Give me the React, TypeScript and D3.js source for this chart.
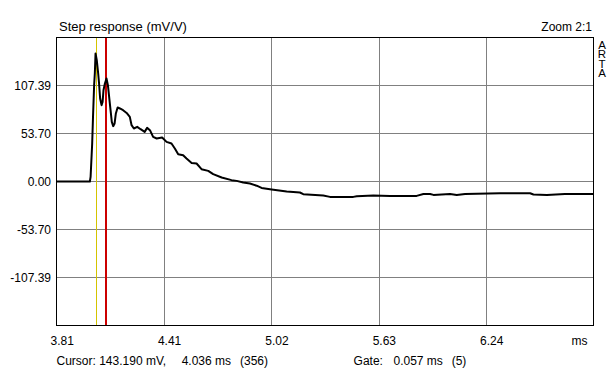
import React from "react";
import * as d3 from "d3";

// ---- data ----
const timeMs = [
  3.806, 3.995, 3.999, 4.008, 4.013, 4.019, 4.023, 4.027, 4.034, 4.042,
  4.047, 4.053, 4.061, 4.067, 4.072, 4.080, 4.089, 4.097, 4.104, 4.112,
  4.119, 4.127, 4.135, 4.142, 4.152, 4.165, 4.183, 4.203, 4.221, 4.231,
  4.244, 4.263, 4.282, 4.305, 4.319, 4.335, 4.353, 4.373, 4.404, 4.429,
  4.457, 4.476, 4.495, 4.523, 4.542, 4.571, 4.599, 4.627, 4.665, 4.693,
  4.741, 4.797, 4.826, 4.863, 4.901, 4.939, 4.967, 5.024, 5.109, 5.184,
  5.203, 5.316, 5.354, 5.486, 5.506, 5.600, 5.694, 5.845, 5.883, 5.921,
  5.940, 6.034, 6.072, 6.119, 6.317, 6.487, 6.506, 6.582, 6.684, 6.843,
];
const stepMv = [
  0, 0, 5.1, 42.5, 74.2, 107.7, 121.1, 143.2, 135.7, 120.8,
  109.6, 92.8, 85.4, 89.0, 102.1, 109.6, 115.2, 107.7, 94.6, 79.8,
  66.7, 61.9, 64.9, 76.1, 82.8, 81.7, 79.8, 76.7, 72.3, 63.0,
  59.3, 61.1, 58.5, 55.5, 60.0, 57.4, 49.9, 48.1, 49.2, 44.3,
  42.5, 36.9, 30.5, 29.4, 25.7, 20.8, 20.1, 13.8, 11.9, 8.2,
  4.5, 1.5, 0.7, -1.1, -2.2, -4.7, -7.2, -8.9, -11.2, -12.3,
  -14.2, -15.7, -17.2, -17.2, -16.4, -15.7, -16.1, -16.1, -13.9, -13.9,
  -15.0, -13.9, -15.0, -13.9, -13.1, -13.1, -14.5, -15.0, -13.9, -13.9,
];

const xDomain = [3.806, 6.846];
const yDomain = [-161.085, 161.085];
const xTickValues = [3.806, 4.414, 5.022, 5.63, 6.238];
const xTickLabels = ["3.81", "4.41", "5.02", "5.63", "6.24"];
const yTickValues = [107.39, 53.7, 0, -53.7, -107.39];
const yTickLabels = ["107.39", "53.70", "0.00", "-53.70", "-107.39"];
const xGridValues = [4.414, 5.022, 5.63, 6.238];

const cursorMs = 4.036;
const gateMs = 4.086;

const titleText = "Step response (mV/V)";
const zoomText = "Zoom 2:1";
const brandText = "ARTA";

// ---- layout ----
const W = 614;
const H = 370;
const L = 56.5;
const R = 593.5;
const T = 37.5;
const B = 325.5;
const FONT = "'Liberation Sans', Arial, sans-serif";

export default function App() {
  const x = d3.scaleLinear().domain(xDomain).range([L, R]);
  const y = d3.scaleLinear().domain(yDomain).range([B, T]);
  const pts: [number, number][] = timeMs.map((t, i) => [t, stepMv[i]]);
  const line = d3
    .line<[number, number]>()
    .x((d) => x(d[0]))
    .y((d) => y(d[1]));

  return (
    <svg
      width={W}
      height={H}
      style={{ position: "absolute", left: 0, top: 0, background: "#fff" }}
      fontFamily={FONT}
    >
      <rect x={0} y={0} width={W} height={H} fill="#fff" />
      <defs>
        <clipPath id="plot">
          <rect x={L} y={T} width={R - L} height={B - T} />
        </clipPath>
      </defs>
      {/* grid */}
      {xGridValues.map((v, i) => (
        <line
          key={"gx" + i}
          x1={Math.round(x(v)) + 0.5}
          x2={Math.round(x(v)) + 0.5}
          y1={T}
          y2={B}
          stroke="#808080"
          strokeWidth={1}
        />
      ))}
      {yTickValues.map((v, i) => (
        <line
          key={"gy" + i}
          x1={L}
          x2={R}
          y1={Math.round(y(v) - 0.5) + 0.5}
          y2={Math.round(y(v) - 0.5) + 0.5}
          stroke="#808080"
          strokeWidth={1}
        />
      ))}
      {/* markers */}
      <line
        x1={Math.round(x(cursorMs)) - 0.5}
        x2={Math.round(x(cursorMs)) - 0.5}
        y1={T}
        y2={B}
        stroke="#d4c400"
        strokeWidth={1}
      />
      <line
        x1={Math.round(x(gateMs))}
        x2={Math.round(x(gateMs))}
        y1={T}
        y2={B}
        stroke="#cc0000"
        strokeWidth={2}
      />
      {/* curve */}
      <path
        d={line(pts) || ""}
        fill="none"
        stroke="#000"
        strokeWidth={2}
        strokeLinejoin="round"
        clipPath="url(#plot)"
      />
      {/* frame */}
      <rect x={L} y={T} width={R - L} height={B - T} fill="none" stroke="#000" strokeWidth={1} />
      {/* y tick labels */}
      {yTickValues.map((v, i) => (
        <text
          key={"yl" + i}
          x={51}
          y={y(v) + 4.5}
          textAnchor="end"
          fontSize={12}
          fill="#000"
        >
          {yTickLabels[i]}
        </text>
      ))}
      {/* x tick labels */}
      {xTickValues.map((v, i) => (
        <text
          key={"xl" + i}
          x={x(v) - 6}
          y={344.5}
          fontSize={12}
          fill="#000"
        >
          {xTickLabels[i]}
        </text>
      ))}
      <text x={571.5} y={344.5} fontSize={12} fill="#000">ms</text>
      {/* titles */}
      <text x={59} y={30.5} fontSize={13} fill="#000">{titleText}</text>
      <text x={592} y={30.5} fontSize={12} textAnchor="end" fill="#000">{zoomText}</text>
      <text
        x={602}
        y={38.5}
        fontSize={11.5}
        fill="#000"
        style={{ writingMode: "vertical-rl", textOrientation: "upright", letterSpacing: "-2.5px" } as any}
      >
        {brandText}
      </text>
      {/* status line */}
      <text x={56.5} y={364.5} fontSize={12} fill="#000">Cursor: 143.190 mV,</text>
      <text x={181.7} y={364.5} fontSize={12} fill="#000">4.036 ms</text>
      <text x={240} y={364.5} fontSize={12} fill="#000">(356)</text>
      <text x={353.6} y={364.5} fontSize={12} fill="#000">Gate:</text>
      <text x={393.5} y={364.5} fontSize={12} fill="#000">0.057 ms</text>
      <text x={451.7} y={364.5} fontSize={12} fill="#000">(5)</text>
    </svg>
  );
}
